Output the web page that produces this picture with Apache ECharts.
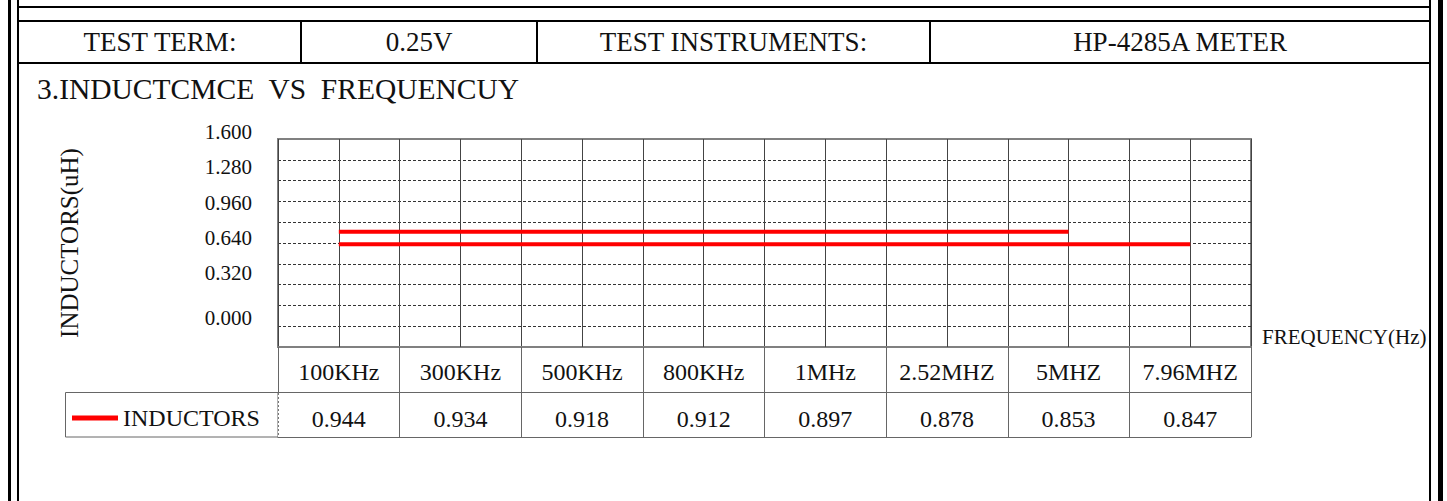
<!DOCTYPE html>
<html><head><meta charset="utf-8">
<script src="https://cdn.jsdelivr.net/npm/echarts@6/dist/echarts.min.js"></script>
<style>html,body{margin:0;padding:0;background:#fff;}#c{width:1447px;height:501px;}</style>
</head><body><div id="c"></div>
<script>
// ---- data ----
const categories = ['100KHz', '300KHz', '500KHz', '800KHz', '1MHz', '2.52MHZ', '5MHZ', '7.96MHZ'];
const inductorValues = [0.944, 0.934, 0.918, 0.912, 0.897, 0.878, 0.853, 0.847];
const plottedLineA = [0.887, 0.887, 0.887, 0.887, 0.887, 0.887, 0.887];
const plottedLineB = [0.791, 0.791, 0.791, 0.791, 0.791, 0.791, 0.791, 0.791];
const yTickLabels = ['0.000', '0.320', '0.640', '0.960', '1.280', '1.600'];
const headerTexts = ['TEST TERM:', '0.25V', 'TEST INSTRUMENTS:', 'HP-4285A METER'];
const chartTitle = '3.INDUCTCMCE  VS  FREQUENCUY';
const yAxisTitle = 'INDUCTORS(uH)';
const xAxisTitle = 'FREQUENCY(Hz)';
const seriesName = 'INDUCTORS';

// ---- style ----
const FF = '"Liberation Serif", "DejaVu Serif", serif';
const TXT = '#111';
const GRAY = '#808080';

const chart = echarts.init(document.getElementById('c'), null, { renderer: 'svg' });

const headerCells = [[19, 301], [301, 537], [537, 930], [930, 1430]];
const graphic = [
  { type: 'rect', shape: { x: 8, y: 0, width: 3, height: 501 }, style: { fill: '#000' } },
  { type: 'rect', shape: { x: 1438, y: 0, width: 5, height: 501 }, style: { fill: '#000' } },
  { type: 'rect', shape: { x: 17, y: 0, width: 2, height: 501 }, style: { fill: '#000' } },
  { type: 'rect', shape: { x: 1429, y: 0, width: 2, height: 501 }, style: { fill: '#000' } },
  { type: 'rect', shape: { x: 17, y: 6, width: 1414, height: 2 }, style: { fill: '#000' } },
  { type: 'rect', shape: { x: 17, y: 20, width: 1414, height: 2 }, style: { fill: '#000' } },
  { type: 'rect', shape: { x: 17, y: 62, width: 1414, height: 2 }, style: { fill: '#000' } },
  { type: 'rect', shape: { x: 300, y: 20, width: 2, height: 44 }, style: { fill: '#000' } },
  { type: 'rect', shape: { x: 536, y: 20, width: 2, height: 44 }, style: { fill: '#000' } },
  { type: 'rect', shape: { x: 929, y: 20, width: 2, height: 44 }, style: { fill: '#000' } },
  { type: 'rect', shape: { x: 65.5, y: 392.5, width: 212.5, height: 44.5 }, style: { fill: 'none', stroke: '#666', lineWidth: 1 } },
  { type: 'line', z: 10, shape: { x1: 278.5, y1: 393, x2: 278.5, y2: 437 }, style: { stroke: '#fff', lineWidth: 1 } },
  { type: 'line', z: 11, shape: { x1: 278.5, y1: 393, x2: 278.5, y2: 437 }, style: { stroke: '#777', lineWidth: 1, lineDash: [2, 2] } }
];
headerTexts.forEach((t, i) => {
  graphic.push({
    type: 'text', x: (headerCells[i][0] + headerCells[i][1]) / 2, y: 42,
    style: { text: t, fontSize: 27, fontFamily: FF, fill: TXT, align: 'center', verticalAlign: 'middle' }
  });
});

const option = {
  animation: false,
  backgroundColor: '#fff',
  title: {
    text: chartTitle, left: 32, top: 69,
    textStyle: { fontSize: 29.5, fontWeight: 'normal', fontFamily: FF, color: TXT }
  },
  legend: {
    data: [seriesName], left: 72, top: 406, padding: 0, icon: 'rect', itemWidth: 46, itemHeight: 5,
    selectedMode: false,
    textStyle: { fontSize: 24, fontFamily: FF, color: TXT }
  },
  grid: [
    { left: 278, right: 196, top: 139, bottom: 154, show: true, borderColor: GRAY, borderWidth: 2, backgroundColor: 'transparent' },
    { left: 278, right: 196, top: 132, height: 176.5, show: false }
  ],
  xAxis: [
    {
      gridIndex: 0, type: 'category', data: categories, position: 'bottom',
      axisLine: { lineStyle: { color: GRAY, width: 2 } },
      axisTick: { show: true, interval: 0, length: 45, lineStyle: { color: '#666', width: 1 } },
      axisLabel: { interval: 0, margin: 25, verticalAlign: 'middle', fontSize: 24, fontFamily: FF, color: TXT },
      splitLine: { show: true, interval: 0, lineStyle: { color: '#444', width: 1 } },
      name: xAxisTitle, nameLocation: 'end', nameGap: 11,
      nameTextStyle: { fontSize: 21, fontFamily: FF, color: TXT, verticalAlign: 'bottom' }
    },
    {
      gridIndex: 0, type: 'category', data: inductorValues.map(v => v.toFixed(3)), position: 'bottom', offset: 45,
      axisLine: { lineStyle: { color: '#666', width: 1 } },
      axisTick: { show: true, interval: 0, length: 45, lineStyle: { color: '#666', width: 1 } },
      axisLabel: { interval: 0, margin: 27, verticalAlign: 'middle', fontSize: 24, fontFamily: FF, color: TXT },
      splitLine: { show: false }
    },
    {
      gridIndex: 0, type: 'category', data: categories, position: 'bottom', offset: 90,
      axisLine: { lineStyle: { color: '#666', width: 1 } },
      axisTick: { show: false }, axisLabel: { show: false }, splitLine: { show: false }
    },
    { gridIndex: 1, type: 'category', data: categories, show: false }
  ],
  yAxis: [
    {
      gridIndex: 0, type: 'value', min: 0, max: 1.6, interval: 0.16,
      axisLine: { show: false }, axisTick: { show: false }, axisLabel: { show: false },
      splitLine: { show: true, showMinLine: false, showMaxLine: false, lineStyle: { type: [3, 2], color: '#333', width: 1 } },
      name: yAxisTitle, nameLocation: 'middle', nameGap: 196, nameRotate: 90,
      nameTextStyle: { fontSize: 25, fontFamily: FF, color: TXT }
    },
    {
      gridIndex: 1, type: 'value', min: 0, max: 1.6, interval: 0.32,
      axisLine: { show: false }, axisTick: { show: false }, splitLine: { show: false },
      axisLabel: {
        margin: 26, fontSize: 21, fontFamily: FF, color: TXT,
        formatter: (v, i) => i === 0 ? '{low|' + yTickLabels[i] + '}' : yTickLabels[i],
        rich: { low: { fontSize: 21, fontFamily: FF, color: TXT, padding: [18, 0, 0, 0] } }
      }
    }
  ],
  series: [
    {
      name: seriesName, type: 'line', xAxisIndex: 0, yAxisIndex: 0, data: plottedLineA,
      symbol: 'none', z: 3, color: '#ff0000', lineStyle: { color: '#ff0000', width: 4 },
      markLine: {
        silent: true, z: 1, symbol: ['none', 'none'], label: { show: false },
        lineStyle: { color: '#444', width: 1, type: 'solid' },
        emphasis: { disabled: true },
        data: categories.map(c => ({ xAxis: c }))
      }
    },
    {
      name: seriesName, type: 'line', xAxisIndex: 0, yAxisIndex: 0, data: plottedLineB,
      symbol: 'none', z: 3, color: '#ff0000', lineStyle: { color: '#ff0000', width: 4 }
    }
  ],
  graphic: graphic
};
chart.setOption(option);
</script>
</body></html>
